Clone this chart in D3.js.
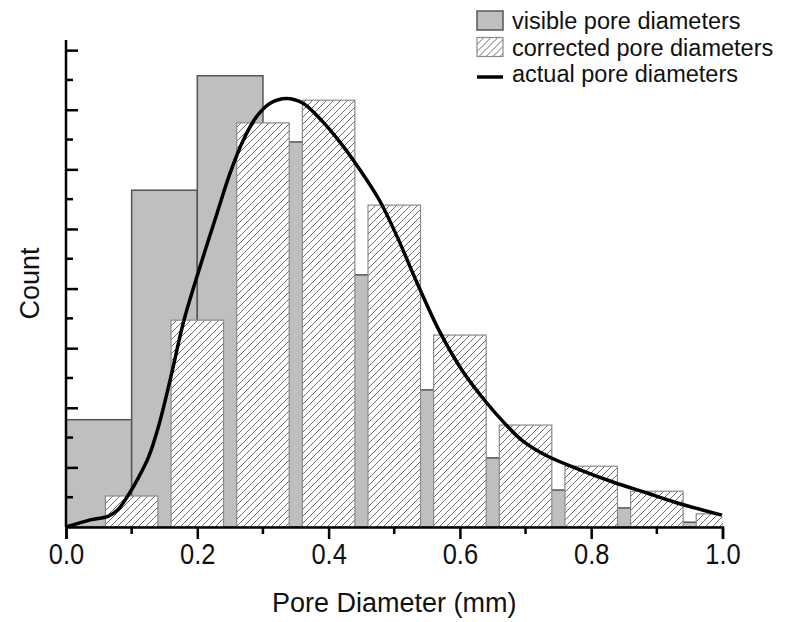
<!DOCTYPE html>
<meta charset="utf-8">
<style>
body { margin: 0; background: #fff; }
svg { font-family: "Liberation Sans", Arial, sans-serif; }
.tick-label { font-size: 30px; fill: #111; }
.axis-title { font-size: 27px; fill: #111; text-anchor: middle; }
.legend text { font-size: 23.5px; fill: #111; }
.visible-bar { fill: #bfbfbf; stroke: #555; stroke-width: 1.5px; }
.corrected-bar { fill: url(#hatch); stroke: #8a8a8a; stroke-width: 1.2px; }
.actual-line { fill: none; stroke: #000; stroke-width: 3.5px; stroke-linejoin: round; }
</style>
<svg width="785" height="622"></svg>
<script src="https://cdn.jsdelivr.net/npm/d3@7"></script>
<script>
// bins of the visible pore histogram (left edges, width 0.1 mm)
var visibleBins = [0.0, 0.1, 0.2, 0.3, 0.4, 0.5, 0.6, 0.7, 0.8, 0.9];
var visibleCounts = [18, 56.5, 75.7, 64.6, 42.3, 23, 11.6, 6.2, 3.2, 0.8];

// corrected histogram (bin centres)
var correctedCenters = [0.1, 0.2, 0.3, 0.4, 0.5, 0.6, 0.7, 0.8, 0.9, 1.0];
var correctedCounts = [5.2, 34.7, 67.8, 71.6, 54, 32.2, 17.1, 10.2, 6.0, 2.2];

// actual distribution curve
var actualX = [0, 0.037, 0.064, 0.079, 0.094, 0.11, 0.126, 0.141, 0.16, 0.179, 0.204, 0.23, 0.25, 0.27,
  0.29, 0.311, 0.336, 0.361, 0.391, 0.417, 0.443, 0.477, 0.504, 0.535, 0.57, 0.605, 0.641, 0.669,
  0.696, 0.733, 0.783, 0.833, 0.885, 0.935, 0.999];
var actualY = [0, 1.2, 1.8, 2.9, 5.2, 8.2, 11.8, 16.9, 25.3, 34.4, 43.6, 52.6, 59.4, 64.9,
  68.8, 71.1, 71.9, 71.1, 68.0, 64.6, 60.7, 54.9, 48.8, 40.9, 32.6, 26.0, 20.8, 17.3,
  14.4, 11.9, 9.6, 7.55, 5.7, 3.9, 2.0];

var xTicks = [0, 0.2, 0.4, 0.6, 0.8, 1.0];
var xMinorTicks = [0.1, 0.3, 0.5, 0.7, 0.9];
var yTicks = [10, 20, 30, 40, 50, 60, 70, 80];
var yMinorTicks = [5, 15, 25, 35, 45, 55, 65, 75];

var legendItems = ["visible pore diameters", "corrected pore diameters", "actual pore diameters"];

var svg = d3.select("svg");

var x = d3.scaleLinear().domain([0, 1]).range([66, 722.5]);
var y = d3.scaleLinear().domain([0, 81.7]).range([527, 40]);

var defs = svg.append("defs");
var hatch = defs.append("pattern")
    .attr("id", "hatch")
    .attr("patternUnits", "userSpaceOnUse")
    .attr("width", 7)
    .attr("height", 7);
hatch.append("rect").attr("width", 7).attr("height", 7).attr("fill", "#fff");
hatch.append("path")
    .attr("d", "M-1,8 L8,-1 M-1,1 L1,-1 M6,8 L8,6")
    .attr("stroke", "#5a5a5a")
    .attr("stroke-width", 0.9);

defs.append("clipPath").attr("id", "plot-clip")
  .append("rect")
    .attr("x", x(0)).attr("y", 0)
    .attr("width", x(1) - x(0)).attr("height", y(0));

var plot = svg.append("g").attr("clip-path", "url(#plot-clip)");

// visible (grey) bars
plot.append("g").selectAll("rect")
    .data(visibleBins)
  .enter().append("rect")
    .attr("class", "visible-bar")
    .attr("x", function(d) { return x(d); })
    .attr("width", function(d) { return x(d + 0.1) - x(d); })
    .attr("y", function(d, i) { return y(visibleCounts[i]); })
    .attr("height", function(d, i) { return y(0) - y(visibleCounts[i]); });

// corrected (hatched) bars
plot.append("g").selectAll("rect")
    .data(correctedCenters)
  .enter().append("rect")
    .attr("class", "corrected-bar")
    .attr("x", function(d) { return x(d - 0.04); })
    .attr("width", function(d) { return x(d + 0.04) - x(d - 0.04); })
    .attr("y", function(d, i) { return y(correctedCounts[i]); })
    .attr("height", function(d, i) { return y(0) - y(correctedCounts[i]); });

// actual curve
var line = d3.line()
    .x(function(d) { return x(d); })
    .y(function(d, i) { return y(actualY[i]); })
    .curve(d3.curveCatmullRom.alpha(0.5));

svg.append("path")
    .attr("class", "actual-line")
    .attr("d", line(actualX));

// x axis
var xAxis = svg.append("g").attr("transform", "translate(0," + y(0) + ")");
xAxis.call(d3.axisBottom(x).tickValues(xTicks).tickSize(12).tickPadding(3).tickFormat(d3.format(".1f")));
xAxis.selectAll(".tick text")
    .attr("class", "tick-label")
    .attr("y", 0)
    .attr("dy", 0)
    .attr("transform", "translate(0,37) scale(0.85,1)");
xAxis.append("g").selectAll("line")
    .data(xMinorTicks)
  .enter().append("line")
    .attr("x1", function(d) { return x(d); })
    .attr("x2", function(d) { return x(d); })
    .attr("y2", 7);
xAxis.selectAll("line").attr("stroke", "#000").attr("stroke-width", 2.5);
xAxis.select(".domain").attr("stroke", "#000").attr("stroke-width", 2.5);

// y axis (ticks inward, no labels)
var yAxis = svg.append("g").attr("transform", "translate(" + x(0) + ",0)");
yAxis.call(d3.axisRight(y).tickValues(yTicks).tickSize(12).tickFormat(""));
yAxis.select(".domain").attr("d", "M0," + y(0) + "V" + y(81.7));
yAxis.append("g").selectAll("line")
    .data(yMinorTicks)
  .enter().append("line")
    .attr("y1", function(d) { return y(d); })
    .attr("y2", function(d) { return y(d); })
    .attr("x2", 7);
yAxis.selectAll("line").attr("stroke", "#000").attr("stroke-width", 2.5);
yAxis.select(".domain").attr("stroke", "#000").attr("stroke-width", 2.5);

// axis titles
svg.append("text")
    .attr("class", "axis-title")
    .attr("x", (x(0) + x(1)) / 2)
    .attr("y", 612)
    .text("Pore Diameter (mm)");

svg.append("text")
    .attr("class", "axis-title")
    .attr("transform", "translate(39," + (y(0) + y(81.7)) / 2 + ") rotate(-90)")
    .text("Count");

// legend
var legend = svg.append("g").attr("class", "legend").attr("transform", "translate(477,11)");
var legendRow = legend.selectAll("g")
    .data(legendItems)
  .enter().append("g")
    .attr("transform", function(d, i) { return "translate(0," + i * 26.5 + ")"; });

legendRow.filter(function(d, i) { return i < 2; })
  .append("rect")
    .attr("width", 26)
    .attr("height", 19)
    .attr("class", function(d, i) { return i === 0 ? "visible-bar" : "corrected-bar"; });

legendRow.filter(function(d, i) { return i === 2; })
  .append("line")
    .attr("x1", 0).attr("x2", 26)
    .attr("y1", 13).attr("y2", 13)
    .attr("stroke", "#000").attr("stroke-width", 3.5);

legendRow.append("text")
    .attr("x", 35)
    .attr("y", 18)
    .text(function(d) { return d; });
</script>
